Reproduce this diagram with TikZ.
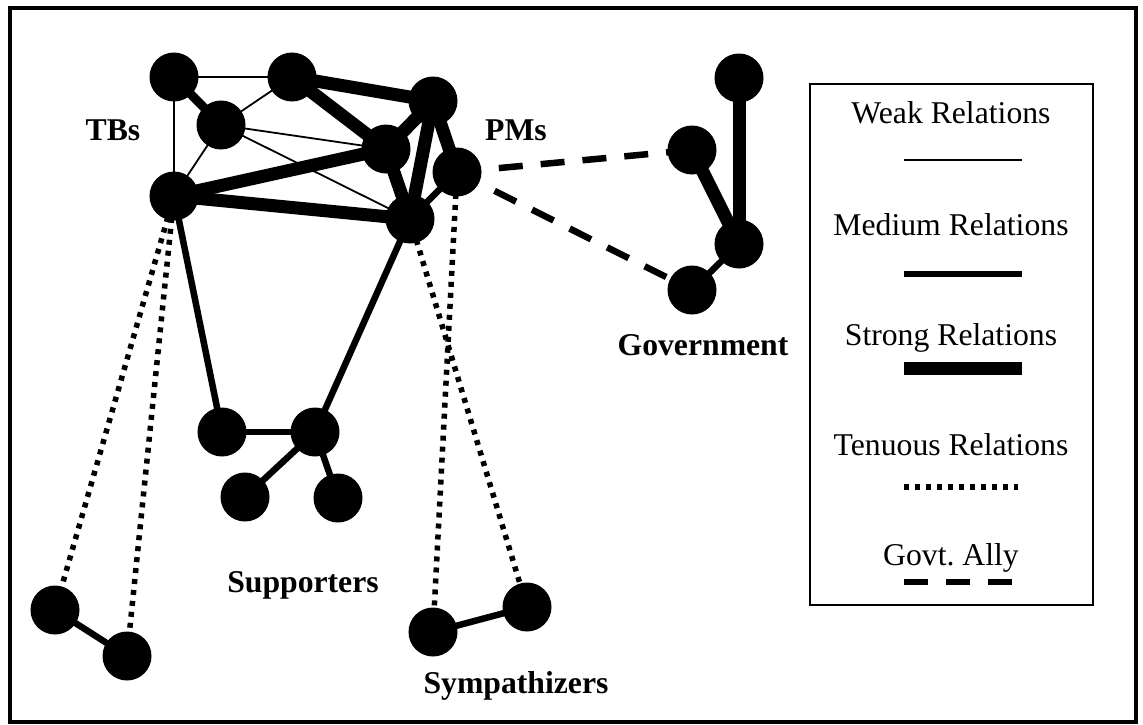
\documentclass[tikz,border=0pt]{standalone}
\usepackage{fontspec}
\setmainfont{Liberation Serif}
\pgfdeclarelayer{background}
\pgfsetlayers{background,main}
\begin{document}
\begin{tikzpicture}[x=1pt,y=-1pt,
  actor/.style={circle,fill=black,minimum size=49pt,inner sep=0pt},
  weak/.style={line width=1.8pt},
  medium/.style={line width=6.5pt},
  strong/.style={line width=13pt},
  tenuous/.style={line width=5.5pt,dash pattern=on 5pt off 6pt},
  ally/.style={line width=6.5pt,dash pattern=on 24pt off 18pt},
  grouplabel/.style={font=\fontsize{31.7}{36}\selectfont\bfseries,anchor=base,inner sep=0pt},
  keylabel/.style={font=\fontsize{31.7}{36}\selectfont,anchor=base,inner sep=0pt}]

\useasboundingbox (0,0) rectangle (1143,725);
\draw[line width=3.5pt] (10,8) rectangle (1136,722);

% actors: TBs and PMs core
\node[actor] (A) at (174,77) {};
\node[actor] (B) at (292,77) {};
\node[actor] (C) at (221,125) {};
\node[actor] (D) at (174,196) {};
\node[actor] (E) at (433,101) {};
\node[actor] (F) at (386,149) {};
\node[actor] (G) at (410,219) {};
\node[actor] (H) at (457,172) {};
% government
\node[actor] (T1) at (739,78) {};
\node[actor] (T2) at (692,150) {};
\node[actor] (T3) at (739,244) {};
\node[actor] (T4) at (692,290) {};
% supporters
\node[actor] (S1) at (222,432) {};
\node[actor] (S2) at (315,432) {};
\node[actor] (S3) at (245,497) {};
\node[actor] (S4) at (338,498) {};
% loose pair, bottom left
\node[actor] (L1) at (55,610) {};
\node[actor] (L2) at (127,656) {};
% sympathizers
\node[actor] (Y1) at (433,632) {};
\node[actor] (Y2) at (527,607) {};

\begin{pgfonlayer}{background}
  % weak ties
  \foreach \p/\q in {A/B,A/D,B/C,C/D,C/F,C/G}
    \draw[weak] (\p.center) -- (\q.center);
  % strong ties
  \draw[strong,line width=9pt] (A.center) -- (C.center);
  \foreach \p/\q in {B/E,B/F,D/F,D/G,E/F,F/G,E/G,E/H,T1/T3,T2/T3}
    \draw[strong] (\p.center) -- (\q.center);
  % medium ties
  \foreach \p/\q in {H/G,D/S1,S1/S2,S2/G,S2/S3,S2/S4,T3/T4,L1/L2,Y1/Y2}
    \draw[medium] (\p.center) -- (\q.center);
  % tenuous ties
  \foreach \p/\q in {D/L1,D/L2,G/Y2,H/Y1}
    \draw[tenuous] (\p.center) -- (\q.center);
  % government allies
  \draw[ally] (H.center) -- (T2.center);
  \draw[ally] (H.center) -- (T4.center);
\end{pgfonlayer}

% group names
\node[grouplabel] (lTB) at (113,140) {TBs};
\node[grouplabel] (lPM) at (516,140) {PMs};
\node[grouplabel] (lGov) at (703,355) {Government};
\node[grouplabel] (lSup) at (303,592) {Supporters};
\node[grouplabel] (lSym) at (516,693) {Sympathizers};

% key
\draw[line width=2pt] (810,84) rectangle (1093,605);
\node[keylabel] (kW) at (951,123) {Weak Relations};
\node[keylabel] (kM) at (951,235) {Medium Relations};
\node[keylabel] (kS) at (951,345) {Strong Relations};
\node[keylabel] (kT) at (951,455) {Tenuous Relations};
\node[keylabel] (kA) at (951,565) {Govt.\ Ally};
\draw[weak] (904,160) -- (1022,160);
\draw[medium] (904,274) -- (1022,274);
\draw[strong] (904,368) -- (1022,368);
\draw[tenuous] (904,487) -- (1018,487);
\draw[ally] (904,582) -- (1012,582);
\end{tikzpicture}
\end{document}
